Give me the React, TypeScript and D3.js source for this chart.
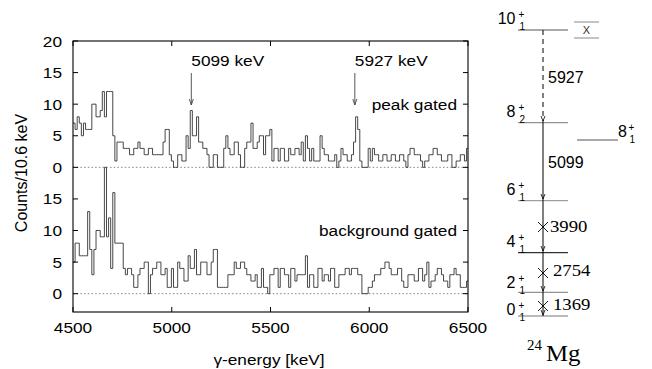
import React from 'react';
import * as d3 from 'd3';

// ---------- data ----------
const BIN_WIDTH = 10.6;
const E_MIN = 4500;
const E_MAX = 6500;
const xTicks = [4500, 5000, 5500, 6000, 6500];
const yTicksTop = [0, 5, 10, 15, 20];
const yTicksBottom = [0, 5, 10, 15];

const peakGated = [
  7, 6, 8, 7, 5, 7, 6, 6, 6, 10, 10, 8, 8, 9, 12, 8, 12, 12, 12, 5,
  1, 4, 4, 4, 3, 3, 3, 2, 2, 3, 3, 4, 3, 3, 2, 2, 3, 3, 2, 2,
  2, 2, 2, 4, 6, 6, 2, 1, 0, 0, 2, 2, 1, 1, 5, 3, 9, 5, 5, 8,
  4, 4, 3, 3, 2, 0, 0, 2, 2, 0, 0, 0, 3, 5, 3, 2, 2, 4, 4, 2,
  0, 0, 3, 4, 4, 7, 3, 3, 4, 5, 5, 2, 5, 5, 6, 1, 3, 3, 1, 3,
  3, 1, 1, 3, 2, 2, 3, 3, 2, 4, 1, 5, 3, 1, 3, 1, 1, 1, 5, 3,
  2, 2, 1, 1, 1, 2, 0, 1, 3, 2, 2, 1, 1, 2, 4, 8, 6, 1, 0, 0,
  0, 3, 1, 3, 2, 2, 1, 1, 2, 2, 1, 1, 2, 2, 1, 1, 2, 2, 1, 0,
  2, 3, 3, 2, 2, 2, 1, 0, 1, 1, 2, 2, 3, 3, 2, 2, 1, 1, 1, 2,
  2, 0, 0, 1, 1, 2, 2, 1, 3,
];

const backgroundGated = [
  5, 8, 8, 6, 6, 6, 6, 13, 7, 3, 7, 10, 10, 9, 9, 20, 9, 12, 4, 16,
  8, 8, 8, 8, 4, 3, 4, 4, 3, 1, 1, 3, 4, 4, 5, 5, 0, 3, 4, 4,
  5, 5, 3, 3, 4, 1, 1, 4, 1, 1, 5, 4, 4, 2, 2, 6, 4, 4, 7, 3,
  3, 5, 5, 5, 3, 3, 5, 7, 7, 1, 1, 1, 1, 1, 3, 3, 3, 5, 4, 4,
  5, 5, 4, 3, 3, 2, 2, 3, 1, 1, 4, 1, 1, 0, 3, 3, 4, 4, 1, 4,
  4, 3, 3, 1, 4, 4, 2, 3, 3, 3, 3, 6, 1, 3, 3, 1, 1, 4, 4, 2,
  3, 3, 2, 4, 4, 1, 1, 3, 3, 3, 4, 4, 3, 4, 4, 4, 3, 3, 0, 0,
  0, 1, 1, 2, 3, 3, 3, 4, 4, 5, 5, 4, 3, 3, 3, 4, 4, 2, 1, 1,
  3, 3, 3, 2, 2, 4, 4, 2, 3, 5, 1, 2, 2, 3, 4, 4, 3, 2, 2, 1,
  3, 3, 4, 3, 3, 1, 1, 1, 2,
];

const peakEnergies = [5099, 5927];
const peakTexts = ['5099 keV', '5927 keV'];
const panelLabels = ['peak gated', 'background gated'];

// level scheme
const levelNames = ['10', '8', '6', '4', '2', '0'];
const levelSubs = ['1', '2', '1', '1', '1', '1'];
const transitionLabels = ['5927', '5099', '3990', '2754', '1369'];

// ---------- layout ----------
const W = 652;
const H = 369;
const L = 73, R = 468, T = 41, B = 312;
const TOP_OFFSET = 20;

const SANS = 'Liberation Sans, Arial, Helvetica, sans-serif';
const SERIF = '"Liberation Serif", "Times New Roman", serif';

const x = d3.scaleLinear().domain([E_MIN, E_MAX]).range([L, R]);
const y = d3.scaleLinear().domain([-2.9, 40]).range([B, T]);

function histPath(vals: number[], offset: number) {
  const pts: [number, number][] = vals.map((v, i) => [E_MIN + i * BIN_WIDTH, v + offset]);
  pts.push([E_MIN + vals.length * BIN_WIDTH, vals[vals.length - 1] + offset]);
  const line = d3
    .line<[number, number]>()
    .x((d) => x(d[0]))
    .y((d) => y(d[1]))
    .curve(d3.curveStepAfter);
  return line(pts) || '';
}

function ST(props: { x: number; y: number; sx?: number; anchor?: string; size?: number; family?: string; children: any; fill?: string }) {
  const { sx = 1.15, anchor = 'start', size = 15, family = SANS, fill = '#000' } = props;
  return (
    <text
      transform={`translate(${props.x},${props.y}) scale(${sx},1)`}
      textAnchor={anchor}
      fontSize={size}
      fontFamily={family}
      fill={fill}
    >
      {props.children}
    </text>
  );
}

export default function App() {
  const yTickItems = [
    ...yTicksTop.map((t) => ({ v: t + TOP_OFFSET, label: String(t) })),
    ...yTicksBottom.map((t) => ({ v: t, label: String(t) })),
  ];

  // level scheme geometry
  const lx1 = 518, lx2 = 568, vx = 543;
  const levelY = [30, 122.7, 200.7, 252.7, 292.3, 316];
  const labelDy = [-6.5, -6, -5.7, -6, -4.3, -1];
  const levelColor = ['#555', '#777', '#888', '#000', '#777', '#777'];
  const crossY = [227, 273, 306];
  const transLabelPos = [
    { x: 548, y: 83, serif: false },
    { x: 548, y: 168, serif: false },
    { x: 550, y: 232, serif: true },
    { x: 553, y: 276, serif: true },
    { x: 553, y: 310, serif: true },
  ];
  const arrowTips = [121, 199, 251, 291, 315];

  return (
    <svg width={W} height={H} style={{ position: 'absolute', left: 0, top: 0, background: '#fff' }}>
      <defs>
        <clipPath id="plotclip">
          <rect x={L} y={T} width={R - L} height={B - T} />
        </clipPath>
      </defs>
      <rect x={0} y={0} width={W} height={H} fill="#fff" />

      {/* zero lines */}
      {[TOP_OFFSET, 0].map((v, i) => (
        <line key={i} x1={L} x2={R} y1={y(v)} y2={y(v)} stroke="#666" strokeWidth={0.8} strokeDasharray="1.5,2.2" />
      ))}

      {/* histograms */}
      <g clipPath="url(#plotclip)">
        <path d={histPath(peakGated, TOP_OFFSET)} fill="none" stroke="#333" strokeWidth={0.9} />
        <path d={histPath(backgroundGated, 0)} fill="none" stroke="#333" strokeWidth={0.9} />
      </g>

      {/* frame */}
      <rect x={L} y={T} width={R - L} height={B - T} fill="none" stroke="#000" strokeWidth={1.1} />

      {/* y ticks */}
      {yTickItems.map((t, i) => (
        <g key={i}>
          <line x1={L} x2={L + 5} y1={y(t.v)} y2={y(t.v)} stroke="#000" />
          <line x1={R - 5} x2={R} y1={y(t.v)} y2={y(t.v)} stroke="#000" />
          <ST x={62} y={y(t.v) + 5.5} anchor="end">{t.label}</ST>
        </g>
      ))}

      {/* x ticks */}
      {xTicks.map((t) => (
        <g key={t}>
          <line x1={x(t)} x2={x(t)} y1={B} y2={B - 5} stroke="#000" />
          <line x1={x(t)} x2={x(t)} y1={T} y2={T + 5} stroke="#000" />
          <ST x={x(t)} y={333} anchor="middle">{String(t)}</ST>
        </g>
      ))}

      {/* axis titles */}
      <text
        transform={`translate(27,173) rotate(-90)`}
        textAnchor="middle"
        fontSize={16}
        fontFamily={SANS}
      >
        Counts/10.6 keV
      </text>
      <ST x={269} y={365} anchor="middle">γ-energy [keV]</ST>

      {/* peak annotations */}
      {peakEnergies.map((e, i) => {
        const px = x(e);
        return (
          <g key={e}>
            <ST x={px} y={66}>{peakTexts[i]}</ST>
            <line x1={px} x2={px} y1={73} y2={105} stroke="#444" strokeWidth={0.9} />
            <path d={`M${px - 2},${99} L${px},${105} L${px + 2},${99}`} fill="none" stroke="#444" strokeWidth={0.9} />
          </g>
        );
      })}

      <ST x={457} y={110} anchor="end">{panelLabels[0]}</ST>
      <ST x={457} y={236} anchor="end">{panelLabels[1]}</ST>

      {/* level scheme */}
      {levelY.map((ly, i) => (
        <g key={i}>
          <line x1={lx1} x2={lx2} y1={ly} y2={ly} stroke={levelColor[i]} strokeWidth={1} />
          <text x={515.5} y={ly + labelDy[i]} textAnchor="end" fontSize={16} fontFamily={SANS}>
            {levelNames[i]}
          </text>
          <text x={518.5} y={ly + labelDy[i] - 6} fontSize={10} fontFamily={SANS}>
            +
          </text>
          <text x={519.5} y={ly + labelDy[i] + 6} fontSize={10} fontFamily={SANS}>
            {levelSubs[i]}
          </text>
        </g>
      ))}

      {/* 8_1^+ yrast level */}
      <line x1={577} x2={618} y1={140} y2={140} stroke="#555" strokeWidth={1} />
      <text x={618} y={136.5} fontSize={16} fontFamily={SANS}>8</text>
      <text x={628.5} y={130.5} fontSize={10} fontFamily={SANS}>+</text>
      <text x={629.5} y={142.5} fontSize={10} fontFamily={SANS}>1</text>

      {/* unknown level box */}
      <line x1={574} x2={599} y1={22} y2={22} stroke="#888" strokeWidth={1} />
      <line x1={574} x2={599} y1={38} y2={38} stroke="#888" strokeWidth={1} />
      <text x={586.5} y={34} textAnchor="middle" fontSize={11} fontFamily={SANS} fill="#333">X</text>

      {/* transitions */}
      <line x1={vx} x2={vx} y1={levelY[0]} y2={levelY[1]} stroke="#000" strokeWidth={1} strokeDasharray="5,4" />
      <line x1={vx} x2={vx} y1={levelY[1]} y2={levelY[5]} stroke="#000" strokeWidth={1} />
      {arrowTips.map((ty, i) => (
        <path key={i} d={`M${vx - 2},${ty - 5} L${vx},${ty} L${vx + 2},${ty - 5}`} fill="none" stroke="#000" strokeWidth={0.8} />
      ))}
      {crossY.map((cy, i) => (
        <path key={i} d={`M${vx - 5},${cy - 5} L${vx + 5},${cy + 5} M${vx - 5},${cy + 5} L${vx + 5},${cy - 5}`} stroke="#000" strokeWidth={0.9} />
      ))}
      {transitionLabels.map((t, i) => {
        const p = transLabelPos[i];
        return p.serif ? (
          <ST key={t} x={p.x} y={p.y} size={17} family={SERIF} sx={1.1}>{t}</ST>
        ) : (
          <ST key={t} x={p.x} y={p.y} size={16} sx={1.0}>{t}</ST>
        );
      })}

      {/* nucleus label */}
      <text x={527} y={350} fontSize={15} fontFamily={SERIF}>24</text>
      <ST x={546} y={361} size={23} family={SERIF} sx={1.08}>Mg</ST>
    </svg>
  );
}
